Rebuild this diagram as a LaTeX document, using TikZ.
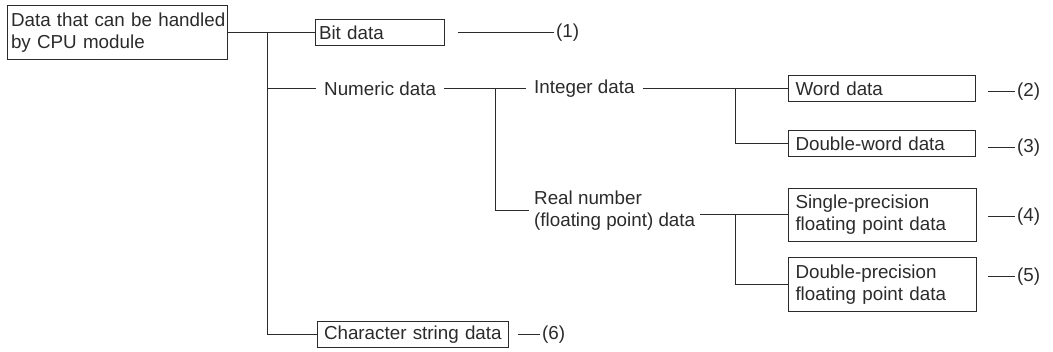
\documentclass[tikz,border=0pt]{standalone}
\usepackage{fontspec}
\setmainfont{Liberation Sans}
\definecolor{ink}{HTML}{2B2B2B}
\hbadness=10000
\hfuzz=50pt
\begin{document}
\begin{tikzpicture}[x=1pt,y=-1pt,
  every node/.style={font=\fontsize{18.8}{22}\selectfont, text=ink},
  box/.style={draw=ink, line width=1pt, inner xsep=6pt, inner ysep=0pt, align=left},
  plain/.style={inner xsep=8pt, inner ysep=0pt, anchor=west, align=left},
  lab/.style={inner xsep=2pt, inner ysep=0pt, anchor=west},
  conn/.style={draw=ink, line width=1pt}]
\useasboundingbox (0,0) rectangle (1053,352);
% boxes
\node[box, minimum width=220pt, minimum height=54pt, text width=212pt, inner xsep=4pt] (root) at (117,33) {\mbox{Data that can be handled}\\\mbox{by CPU module}};
\node[box, minimum width=129pt, minimum height=26pt, text width=121pt, inner xsep=4pt] (bit) at (379.5,33) {\mbox{Bit data}};
\node[box, minimum width=187pt, minimum height=26pt, text width=172pt, inner xsep=7.5pt] (word) at (881.5,89) {\mbox{Word data}};
\node[box, minimum width=187pt, minimum height=26pt, text width=172pt, inner xsep=7.5pt] (dword) at (881.5,144) {\mbox{Double-word data}};
\node[box, minimum width=188pt, minimum height=53pt, text width=173pt, inner xsep=7.5pt] (single) at (882,215) {\mbox{Single-precision}\\\mbox{floating point data}};
\node[box, minimum width=188pt, minimum height=54pt, text width=173pt, inner xsep=7.5pt] (dprec) at (882,285) {\mbox{Double-precision}\\\mbox{floating point data}};
\node[box, minimum width=191pt, minimum height=26pt, text width=177pt, inner xsep=7pt] (char) at (412.5,335) {\mbox{Character string data}};
% plain texts
\node[plain] (numeric) at (316,89) {Numeric data};
\node[plain] (integer) at (526,89) {Integer data};
\node[plain, inner xsep=5pt] (real) at (529,211) {Real number\\(floating point) data};
% labels
\node[lab] (l1) at (554,33) {(1)};
\node[lab] (l2) at (1015,92) {(2)};
\node[lab] (l3) at (1015,148) {(3)};
\node[lab] (l4) at (1015,217) {(4)};
\node[lab] (l5) at (1015,277) {(5)};
\node[lab] (l6) at (540,335) {(6)};
% junctions
\coordinate (j0) at (267,33);
\coordinate (j1) at (495,89);
\coordinate (j2) at (735,89);
\coordinate (j3) at (735,215);
% tree connectors
\draw[conn] (root.east) -- (bit.west);
\draw[conn] (j0) |- (char.west);
\draw[conn] (j0 |- numeric.west) -- (numeric.west);
\draw[conn] (numeric.east) -- (integer.west);
\draw[conn] (j1) |- (real.west);
\draw[conn] (integer.east) -- (word.west);
\draw[conn] (j2) |- (dword.west);
\draw[conn] (real.east |- single.west) -- (single.west);
\draw[conn] (j3) |- (dprec.west);
% label connectors
\draw[conn] ([xshift=13pt]bit.east) -- (l1.west);
\draw[conn] ([xshift=12pt]word.east |- l2.west) -- (l2.west);
\draw[conn] ([xshift=12pt]dword.east |- l3.west) -- (l3.west);
\draw[conn] ([xshift=11pt]single.east |- l4.west) -- (l4.west);
\draw[conn] ([xshift=11pt]dprec.east |- l5.west) -- (l5.west);
\draw[conn] ([xshift=9pt]char.east) -- (l6.west);
\end{tikzpicture}
\end{document}
